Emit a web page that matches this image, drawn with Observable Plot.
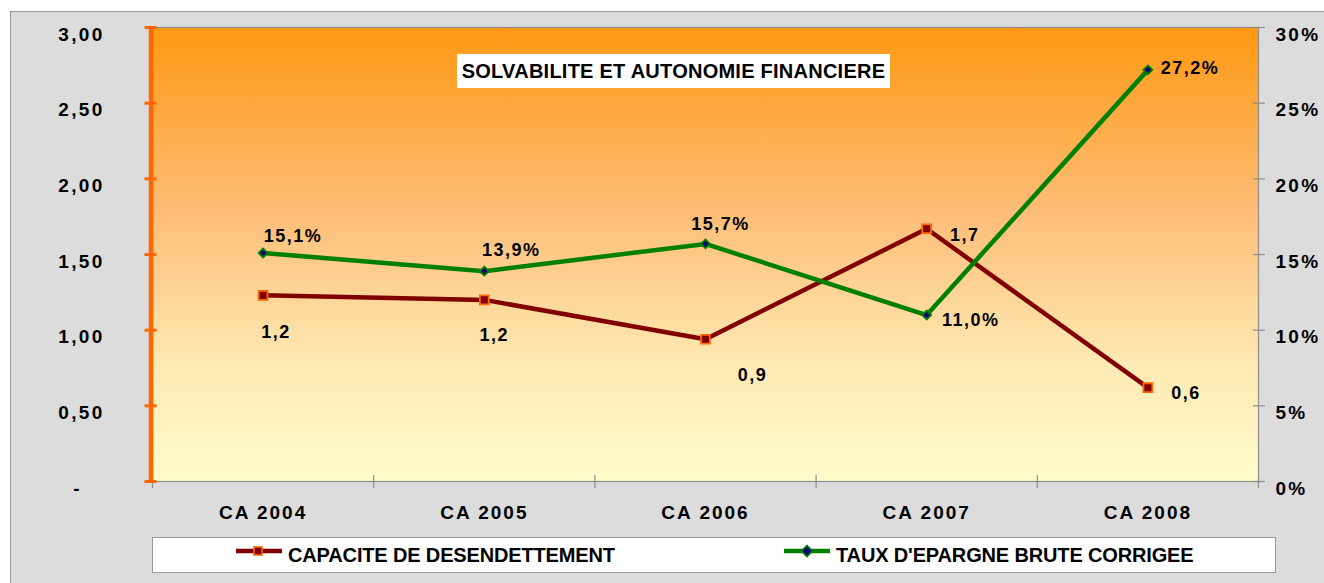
<!DOCTYPE html>
<html>
<head>
<meta charset="utf-8">
<script src="https://cdn.jsdelivr.net/npm/d3@7"></script>
<script src="https://cdn.jsdelivr.net/npm/@observablehq/plot@0.6"></script>
<style>
  html, body { margin: 0; padding: 0; background: #fff; }
  body { width: 1324px; height: 583px; position: relative; overflow: hidden; font-family: "Liberation Sans", Arial, sans-serif; }
  #bg { position: absolute; left: 10px; top: 11px; width: 1330px; height: 590px; background: #dcdcdc; border: 1px solid #9a9a9a; }
  #chart { position: absolute; left: 0; top: 0; }
  #title { position: absolute; left: 457px; top: 54px; width: 433px; height: 34px; background: #fff; font-weight: bold; font-size: 20px; line-height: 35px; text-align: center; color: #000; white-space: nowrap; letter-spacing: 0.25px; }
  #legend { position: absolute; left: 152px; top: 537px; width: 1122px; height: 34px; background: #fff; border: 1px solid #9a9a9a; }
  .item { position: absolute; top: 0; height: 34px; display: flex; align-items: center; font-weight: bold; font-size: 20px; letter-spacing: -0.15px; color: #000; white-space: nowrap; }
  .item svg { margin-right: 6px; margin-top: -8px; }
  g[aria-label="y-axis tick label"] { letter-spacing: 2.3px; }
  g[aria-label="x-axis tick label"] { letter-spacing: 2px; }
  g[aria-label="text"] { letter-spacing: 1.5px; }
</style>
</head>
<body>
<div id="bg"></div>
<div id="chart"></div>
<div id="title"></div>
<div id="legend"></div>
<script>
// ---- data ----
const categories = ["CA 2004", "CA 2005", "CA 2006", "CA 2007", "CA 2008"];
const capaciteDesendettement = [1.23, 1.20, 0.94, 1.67, 0.62];   // left axis (years)
const tauxEpargneBrute = [15.1, 13.9, 15.7, 11.0, 27.2];         // right axis (%)
const leftTicks = [0, 0.5, 1, 1.5, 2, 2.5, 3];
const rightTicks = [0, 5, 10, 15, 20, 25, 30];
const titleText = "SOLVABILITE ET AUTONOMIE FINANCIERE";
const seriesNames = ["CAPACITE DE DESENDETTEMENT", "TAUX D'EPARGNE BRUTE CORRIGEE"];

// ---- layout / style config ----
const RED = "#800000", ORANGE = "#ff6600", GREEN = "#008000", NAVY = "#000080", GRID = "#8c8c8c";
const pctToY = v => v / 10; // 30 % aligns with 3,00
const capOffsets = [[13, 37], [10, 35], [47, 36], [38, 6], [38, 6]];
const tauxOffsets = [[30, -17], [27, -21], [15, -20], [44, 5], [42, -2]];

const n = categories.length;
const rows = categories.map((c, i) => ({i, cat: c, cap: capaciteDesendettement[i], taux: tauxEpargneBrute[i]}));
const fr1 = v => d3.format(".1f")(v).replace(".", ",");
const fmtLeft = v => v === 0 ? "-\u00a0\u00a0\u00a0" : d3.format(".2f")(v).replace(".", ",");
const boundaries = d3.range(-0.5, n, 1);

const capLabels = rows.map((d, k) => Plot.text(rows, {
  filter: (r, i) => i === k, x: "i", y: "cap", text: r => fr1(r.cap),
  dx: capOffsets[k][0], dy: capOffsets[k][1], fontSize: 18, fontWeight: "bold", fill: "#000"
}));
const tauxLabels = rows.map((d, k) => Plot.text(rows, {
  filter: (r, i) => i === k, x: "i", y: r => pctToY(r.taux), text: r => fr1(r.taux) + "%",
  dx: tauxOffsets[k][0], dy: tauxOffsets[k][1], fontSize: 18, fontWeight: "bold", fill: "#000"
}));

const chart = Plot.plot({
  width: 1324, height: 583,
  marginLeft: 152, marginRight: 66, marginTop: 27, marginBottom: 102,
  style: {background: "transparent", fontFamily: "'Liberation Sans', Arial, sans-serif", fontWeight: "bold", fontSize: "19px", color: "#000", overflow: "visible"},
  x: {type: "linear", domain: [-0.5, n - 0.5]},
  y: {type: "linear", domain: [0, 3]},
  marks: [
    Plot.frame({fill: "url(#plotGrad)", stroke: GRID, strokeWidth: 1.2}),
    // category boundary ticks (crossing the bottom line)
    Plot.axisX({ticks: boundaries, tickSize: 13, dy: -6, tickFormat: () => "", label: null, stroke: GRID, strokeWidth: 1.2}),
    // category labels
    Plot.axisX({ticks: d3.range(n), tickSize: 0, tickPadding: 24, tickFormat: i => categories[i], label: null, fontSize: 19, fill: "#000"}),
    // left axis (orange)
    Plot.ruleX([-0.5], {stroke: ORANGE, strokeWidth: 4.5, dx: -1.5}),
    Plot.axisY({ticks: leftTicks, tickSize: 12, dx: 4.5, tickFormat: () => "", label: null, stroke: ORANGE, strokeWidth: 3}),
    Plot.axisY({ticks: leftTicks, tickSize: 0, tickPadding: 48, dy: 7, tickFormat: fmtLeft, label: null, fontSize: 19, fill: "#000"}),
    // right axis (percent)
    Plot.axisY({anchor: "right", ticks: rightTicks.map(pctToY), tickSize: 12, dx: -6, tickFormat: () => "", label: null, stroke: GRID, strokeWidth: 1.2}),
    Plot.axisY({anchor: "right", ticks: rightTicks.map(pctToY), tickSize: 0, tickPadding: 17, dy: 7, tickFormat: v => Math.round(v * 10) + "%", label: null, fontSize: 19, fill: "#000"}),
    // series
    Plot.line(rows, {x: "i", y: "cap", stroke: RED, strokeWidth: 4.5}),
    Plot.line(rows, {x: "i", y: r => pctToY(r.taux), stroke: GREEN, strokeWidth: 4.5}),
    Plot.dot(rows, {x: "i", y: "cap", symbol: "square", r: 5, fill: RED, stroke: ORANGE, strokeWidth: 1.8}),
    Plot.dot(rows, {x: "i", y: r => pctToY(r.taux), symbol: "diamond2", r: 4, fill: NAVY, stroke: GREEN, strokeWidth: 1.8}),
    ...capLabels,
    ...tauxLabels
  ]
});

// plot-area gradient
const defs = d3.select(chart).insert("defs", ":first-child");
const grad = defs.append("linearGradient").attr("id", "plotGrad").attr("x1", 0).attr("y1", 0).attr("x2", 0).attr("y2", 1);
[[0, "#ff9912"], [0.4, "#fdbc76"], [0.75, "#feeab4"], [1, "#fffccb"]].forEach(([o, c]) =>
  grad.append("stop").attr("offset", o).attr("stop-color", c));

document.getElementById("chart").appendChild(chart);
document.getElementById("title").textContent = titleText;

// legend
const legend = document.getElementById("legend");
const swatch = (line, fill, stroke, shape) => {
  const s = d3.create("svg").attr("width", 46).attr("height", 14);
  s.append("line").attr("x1", 0).attr("x2", 46).attr("y1", 7).attr("y2", 7).attr("stroke", line).attr("stroke-width", 4.5);
  if (shape === "square") s.append("rect").attr("x", 18).attr("y", 3).attr("width", 8).attr("height", 8).attr("fill", fill).attr("stroke", stroke).attr("stroke-width", 1.6);
  else s.append("path").attr("d", "M23,1.5L28.5,7L23,12.5L17.5,7Z").attr("fill", fill).attr("stroke", stroke).attr("stroke-width", 1.6);
  return s.node();
};
[[83, RED, RED, ORANGE, "square"], [631, GREEN, NAVY, GREEN, "diamond"]].forEach(([left, line, fill, stroke, shape], k) => {
  const it = document.createElement("div");
  it.className = "item";
  it.style.left = left + "px";
  it.appendChild(swatch(line, fill, stroke, shape));
  const t = document.createElement("span");
  t.textContent = seriesNames[k];
  it.appendChild(t);
  legend.appendChild(it);
});
</script>
</body>
</html>
